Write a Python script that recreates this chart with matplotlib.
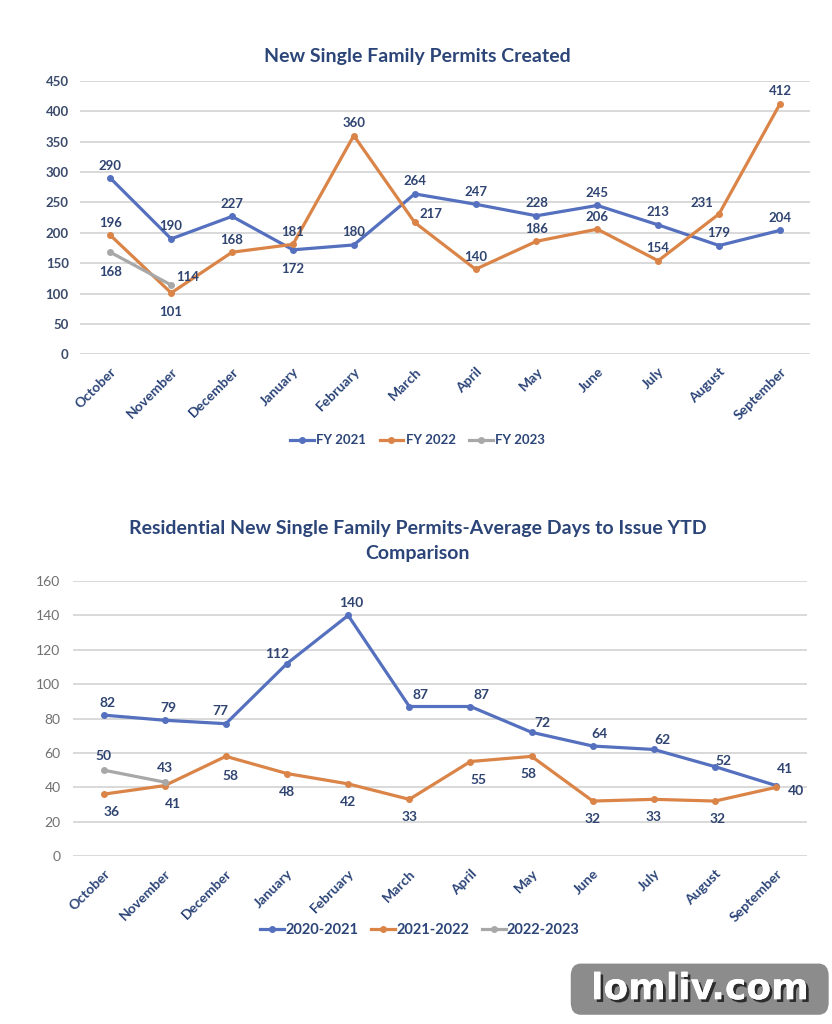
import matplotlib.pyplot as plt
from matplotlib.patches import FancyBboxPatch
import matplotlib.patheffects as pe

plt.rcParams['font.family'] = ['Lato', 'DejaVu Sans']

months = ["October", "November", "December", "January", "February", "March",
          "April", "May", "June", "July", "August", "September"]

# chart 1 - permits created
fy2021 = [290, 190, 227, 172, 180, 264, 247, 228, 245, 213, 179, 204]
fy2022 = [196, 101, 168, 181, 360, 217, 140, 186, 206, 154, 231, 412]
fy2023 = [168, 114]

# chart 2 - average days to issue
d2021 = [82, 79, 77, 112, 140, 87, 87, 72, 64, 62, 52, 41]
d2022 = [36, 41, 58, 48, 42, 33, 55, 58, 32, 33, 32, 40]
d2023 = [50, 43]

BLUE = "#5470BE"
ORANGE = "#DA8448"
GRAY = "#A8A8A8"
NAVY = "#2C4578"
LABEL = "#2F4470"

# label offsets (points)
A = (0, 9)
B = (0, -14)
off_fy2021 = [A, A, A, B, A, A, A, A, A, A, A, A]
off_fy2022 = [A, B, A, A, A, (12, 6), A, A, A, A, (-12, 8), A]
off_fy2023 = [B, (12, 6)]
off_d2021 = [(3, 9), (3, 9), (-4, 9), (-7, 7), (2, 9), (8, 8), (8, 8), (8, 7), (5, 9), (6, 7), (6, 4), (6, 12)]
off_d2022 = [(6, -13), (6, -13), (3, -14), (0, -13), (0, -13), (0, -13), (6, -13), (-2, -13), (0, -13), (0, -13), (2, -13), (14, -3)]
off_d2023 = [(0, 10), (0, 10)]

fig = plt.figure(figsize=(8.32, 10.24), dpi=100)


def draw(ax, series, ymax, step, ytick_style, lab_size):
    x_all = list(range(len(months)))
    for vals, color, name, offs in series:
        x = x_all[:len(vals)]
        ax.plot(x, vals, color=color, lw=2.3, marker="o", ms=4, label=name, zorder=3)
        for xi, v, o in zip(x, vals, offs):
            ax.annotate(str(v), (xi, v), xytext=o, textcoords="offset points",
                        ha="center", va="center", fontsize=lab_size,
                        fontweight="bold", color=LABEL, zorder=4)
    ax.set_xlim(-0.5, len(months) - 0.5)
    ax.set_ylim(0, ymax)
    ax.set_yticks(range(0, ymax + 1, step))
    ax.grid(axis="y", color="#D9D9D9", lw=1.4)
    ax.set_axisbelow(True)
    for s in ax.spines.values():
        s.set_visible(False)
    ax.tick_params(length=0)
    ax.set_xticks(x_all)
    ax.set_xticklabels(months, rotation=45, ha="right", rotation_mode="anchor",
                       fontsize=10, fontweight="bold", color=NAVY)
    for t in ax.get_yticklabels():
        t.set(**ytick_style)


ax1 = fig.add_axes([0.096, 0.654, 0.878, 0.267])
draw(ax1, [(fy2021, BLUE, "FY 2021", off_fy2021),
           (fy2022, ORANGE, "FY 2022", off_fy2022),
           (fy2023, GRAY, "FY 2023", off_fy2023)],
     450, 50, dict(fontsize=9.5, fontweight="bold", color="#3A4A6A"), 9.5)
ax1.tick_params(axis="y", pad=8)
ax1.tick_params(axis="x", pad=8)
fig.text(0.502, 0.945, "New Single Family Permits Created", ha="center", va="center",
         fontsize=14, fontweight="bold", color=NAVY)
fig.legend(handles=ax1.get_lines(), loc="center", bbox_to_anchor=(0.502, 0.570),
           ncol=3, frameon=False, prop=dict(size=9.5, weight="bold"),
           labelcolor=NAVY, handlelength=1.8, columnspacing=1.0, handletextpad=0.2)

ax2 = fig.add_axes([0.0877, 0.164, 0.882, 0.2686])
draw(ax2, [(d2021, BLUE, "2020-2021", off_d2021),
           (d2022, ORANGE, "2021-2022", off_d2022),
           (d2023, GRAY, "2022-2023", off_d2023)],
     160, 20, dict(fontsize=10, color="#707070"), 10)
ax2.tick_params(axis="y", pad=9)
ax2.tick_params(axis="x", pad=8)
fig.text(0.502, 0.4717, "Residential New Single Family Permits-Average Days to Issue YTD\nComparison",
         ha="center", va="center", fontsize=14, fontweight="bold", color=NAVY, linespacing=1.55)
fig.legend(handles=ax2.get_lines(), loc="center", bbox_to_anchor=(0.505, 0.092),
           ncol=3, frameon=False, prop=dict(size=10.5, weight="bold"),
           labelcolor=NAVY, handlelength=1.6, columnspacing=0.9, handletextpad=0.1)

# watermark
fig.patches.append(FancyBboxPatch((0.686, 0.009), 0.310, 0.050,
                                  boxstyle="round,pad=0,rounding_size=0.012",
                                  transform=fig.transFigure, fc="#8C8C8C", ec="none"))
fig.text(0.841, 0.034, "lomliv.com", ha="center", va="center", fontsize=26,
         fontweight="bold", color="white", family="DejaVu Sans",
         path_effects=[pe.withSimplePatchShadow(offset=(2, -2), shadow_rgbFace="#222222", alpha=0.9), pe.Normal()])

fig.savefig("out.png", dpi=100, facecolor="white")
